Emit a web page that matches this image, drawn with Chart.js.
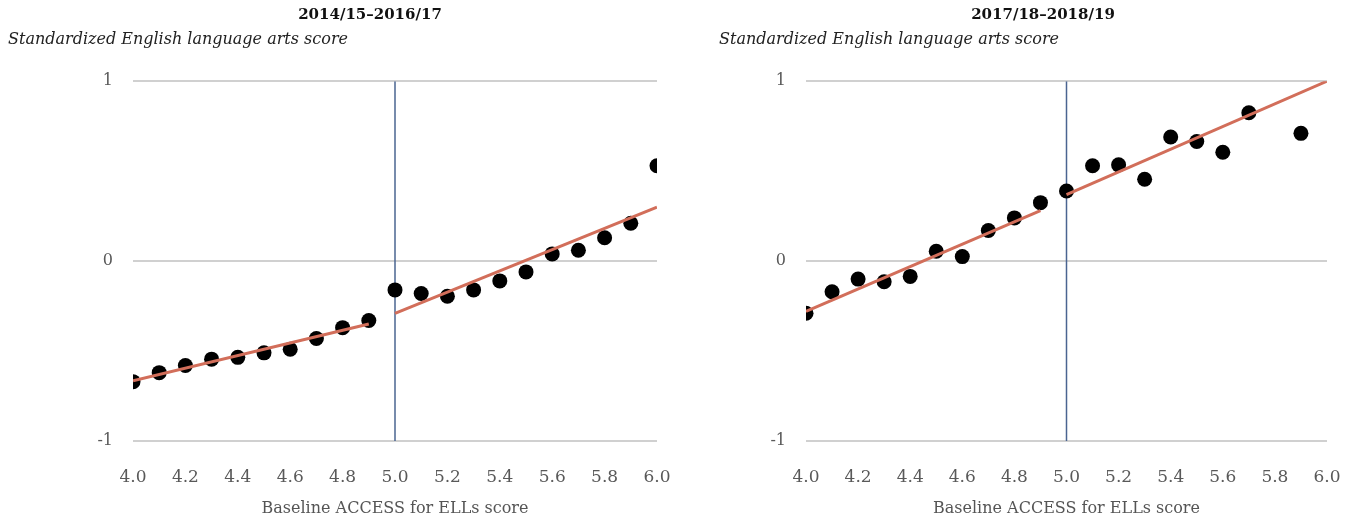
<!DOCTYPE html>
<html>
<head>
<meta charset="utf-8">
<script src="https://cdn.jsdelivr.net/npm/chart.js@4.4.0/dist/chart.umd.min.js"></script>
<style>
  html, body { margin: 0; padding: 0; background: #fff; overflow: hidden; width: 1356px; height: 520px; }
  canvas { position: absolute; top: 0; }
</style>
</head>
<body>
<canvas id="graficoA" width="732" height="520" style="left:0px"></canvas>
<canvas id="graficoB" width="656" height="520" style="left:711px"></canvas>
<script>
// Baseline ACCESS for ELLs score (x) and standardized ELA score (y)
const xTicks = [4.0, 4.2, 4.4, 4.6, 4.8, 5.0, 5.2, 5.4, 5.6, 5.8, 6.0];
const yTicks = [-1, 0, 1];
const cutoff = 5.0;

// 2014/15-2016/17
const baselineA = [4.0, 4.1, 4.2, 4.3, 4.4, 4.5, 4.6, 4.7, 4.8, 4.9, 5.0, 5.1, 5.2, 5.3, 5.4, 5.5, 5.6, 5.7, 5.8, 5.9, 6.0];
const scoreA = [-0.67, -0.62, -0.58, -0.545, -0.535, -0.51, -0.49, -0.43, -0.37, -0.33, -0.16, -0.18, -0.195, -0.16, -0.11, -0.06, 0.04, 0.06, 0.13, 0.21, 0.53];
const fitBelowXA = [4.0, 4.9];
const fitBelowYA = [-0.665, -0.35];
const fitAboveXA = [5.0, 6.0];
const fitAboveYA = [-0.29, 0.30];

// 2017/18-2018/19
const baselineB = [4.0, 4.1, 4.2, 4.3, 4.4, 4.5, 4.6, 4.7, 4.8, 4.9, 5.0, 5.1, 5.2, 5.3, 5.4, 5.5, 5.6, 5.7, 5.9];
const scoreB = [-0.29, -0.17, -0.10, -0.115, -0.085, 0.055, 0.025, 0.17, 0.24, 0.325, 0.39, 0.53, 0.535, 0.455, 0.69, 0.665, 0.605, 0.825, 0.71];
const fitBelowXB = [4.0, 4.9];
const fitBelowYB = [-0.28, 0.28];
const fitAboveXB = [5.0, 6.0];
const fitAboveYB = [0.37, 1.0];

const SERIF = '"DejaVu Serif", serif';

function pares(xs, ys) {
  return xs.map((x, i) => ({ x: x, y: ys[i] }));
}

function montarGrafico(id, titulo, pts, abaixo, acima, yWidth, padWidth) {
  new Chart(document.getElementById(id), {
    type: 'scatter',
    data: {
      datasets: [
        {
          data: abaixo, showLine: true, pointRadius: 0,
          borderColor: '#d26e5a', borderWidth: 3, order: 0
        },
        {
          data: acima, showLine: true, pointRadius: 0,
          borderColor: '#d26e5a', borderWidth: 3, order: 0
        },
        {
          data: pts, pointRadius: 7.5, pointBorderWidth: 0,
          pointBackgroundColor: '#000', pointBorderColor: '#000', order: 1
        },
        {
          data: pares([cutoff, cutoff], [yTicks[0], yTicks[yTicks.length - 1]]),
          showLine: true, pointRadius: 0,
          borderColor: '#4a6491', borderWidth: 1.5, order: 2
        }
      ]
    },
    options: {
      responsive: false,
      animation: false,
      layout: { padding: { left: 8, right: 0, top: 0, bottom: 0 } },
      plugins: {
        legend: { display: false },
        tooltip: { enabled: false },
        title: {
          display: true, text: titulo, color: '#111',
          font: { family: SERIF, size: 15, weight: 'bold' },
          padding: { top: 6, bottom: 2 }
        },
        subtitle: {
          display: true, text: 'Standardized English language arts score',
          align: 'start', color: '#222',
          font: { family: SERIF, size: 16, style: 'italic' },
          padding: { top: 4, bottom: 32 }
        }
      },
      scales: {
        x: {
          type: 'linear', min: 4, max: 6,
          grid: { display: false },
          border: { display: false },
          afterBuildTicks: s => { s.ticks = xTicks.map(v => ({ value: v })); },
          ticks: {
            callback: v => Number(v).toFixed(1),
            color: '#595959', font: { family: SERIF, size: 17 },
            padding: 18, maxRotation: 0, autoSkip: false
          },
          title: {
            display: true, text: 'Baseline ACCESS for ELLs score', color: '#555',
            font: { family: SERIF, size: 16 },
            padding: { top: 18, bottom: 2 }
          },
          afterFit: s => { s.height = 79; }
        },
        y: {
          min: -1, max: 1,
          afterBuildTicks: s => { s.ticks = yTicks.map(v => ({ value: v })); },
          grid: { color: '#d0d0d0', lineWidth: 2, drawTicks: false },
          border: { display: false },
          ticks: { color: '#595959', font: { family: SERIF, size: 16 }, padding: 20 },
          afterFit: s => { s.width = yWidth; }
        },
        pad: {
          position: 'right', display: true,
          grid: { display: false },
          border: { display: false },
          ticks: { display: false },
          afterFit: s => { s.width = padWidth; }
        }
      }
    }
  });
}

montarGrafico('graficoA', '2014/15–2016/17', pares(baselineA, scoreA),
  pares(fitBelowXA, fitBelowYA), pares(fitAboveXA, fitAboveYA), 125, 75);

montarGrafico('graficoB', '2017/18–2018/19', pares(baselineB, scoreB),
  pares(fitBelowXB, fitBelowYB), pares(fitAboveXB, fitAboveYB), 87, 40);
</script>
</body>
</html>
